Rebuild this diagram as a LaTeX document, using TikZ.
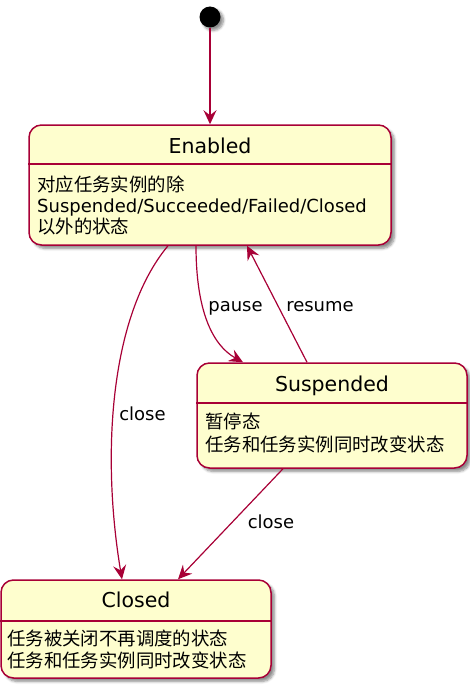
\documentclass[tikz,border=0pt]{standalone}
\usepackage{fontspec}
\setmainfont{DejaVu Sans}
\newfontfamily\cjk{Noto Sans CJK SC}
\usetikzlibrary{arrows.meta,shadows.blur}
\definecolor{umlborder}{HTML}{A80036}
\definecolor{umlfill}{HTML}{FEFECE}
\newcommand\zh[1]{{\cjk\fontsize{18.4}{21}\selectfont #1}}
\tikzset{
  statebox/.style={draw=umlborder, fill=umlfill, line width=1.5pt, rounded corners=12.5pt, inner sep=0pt,
    blur shadow={shadow xshift=3.5pt, shadow yshift=-3.5pt, shadow opacity=45, shadow blur steps=6, shadow blur radius=2.5pt}},
  divider/.style={draw=umlborder, line width=1.5pt},
  titletext/.style={font=\fontsize{20.5}{24}\selectfont, anchor=base, inner sep=0pt},
  bodytext/.style={font=\fontsize{18}{21}\selectfont, anchor=base west, inner sep=0pt},
  edge/.style={draw=umlborder, line width=1.2pt, -{Stealth[length=14pt, width=13pt, inset=5pt]}},
  elabel/.style={font=\fontsize{18}{21}\selectfont, inner sep=0pt, anchor=base},
  initdot/.style={circle, fill=black, minimum size=21pt, inner sep=0pt,
    blur shadow={shadow xshift=3pt, shadow yshift=-3pt, shadow opacity=45, shadow blur steps=6, shadow blur radius=2.5pt}},
}
\begin{document}
\begin{tikzpicture}[x=1pt, y=-1pt]
\useasboundingbox (0,0) rectangle (470,685);

% initial state
\node[initdot] (init) at (210,17) {};

% Enabled
\node[statebox, minimum width=362pt, minimum height=120pt] (en) at (210,185) {};
\draw[divider] (en.west |- 0,164) -- (en.east |- 0,164);
\node[titletext] (entitle) at (210,153.3) {Enabled};
\node[bodytext] (enb1) at (37,191.5) {\zh{对应任务实例的除}};
\node[bodytext] (enb2) at (37,212) {Suspended/Succeeded/Failed/Closed};
\node[bodytext] (enb3) at (37,233) {\zh{以外的状态}};

% Suspended
\node[statebox, minimum width=270pt, minimum height=105pt] (su) at (332,415.5) {};
\draw[divider] (su.west |- 0,403) -- (su.east |- 0,403);
\node[titletext] (sutitle) at (332,391) {Suspended};
\node[bodytext] (sub1) at (205,428.5) {\zh{暂停态}};
\node[bodytext] (sub2) at (205,451) {\zh{任务和任务实例同时改变状态}};

% Closed
\node[statebox, minimum width=270pt, minimum height=98pt] (cl) at (136,629) {};
\draw[divider] (cl.west |- 0,621) -- (cl.east |- 0,621);
\node[titletext] (cltitle) at (136,607) {Closed};
\node[bodytext] (clb1) at (7,645.5) {\zh{任务被关闭不再调度的状态}};
\node[bodytext] (clb2) at (7,667) {\zh{任务和任务实例同时改变状态}};

% transitions
\draw[edge] (init) -- (en.north);
\draw[edge] ([xshift=-42pt]en.south) .. controls (108,318) and (102,460) .. ([xshift=-14pt]cl.north);
\draw[edge] ([xshift=-14pt]en.south) .. controls (196,310) and (212,345) .. ([xshift=-89pt]su.north);
\draw[edge] ([xshift=-25pt]su.north) -- ([xshift=37pt]en.south);
\draw[edge] ([xshift=-49pt]su.south) -- ([xshift=42pt]cl.north);

% labels
\node[elabel] (lclose1) at (142.5,420) {close};
\node[elabel] (lpause) at (235.5,311.7) {pause};
\node[elabel] (lresume) at (320,311.7) {resume};
\node[elabel] (lclose2) at (271,528.3) {close};
\end{tikzpicture}
\end{document}
